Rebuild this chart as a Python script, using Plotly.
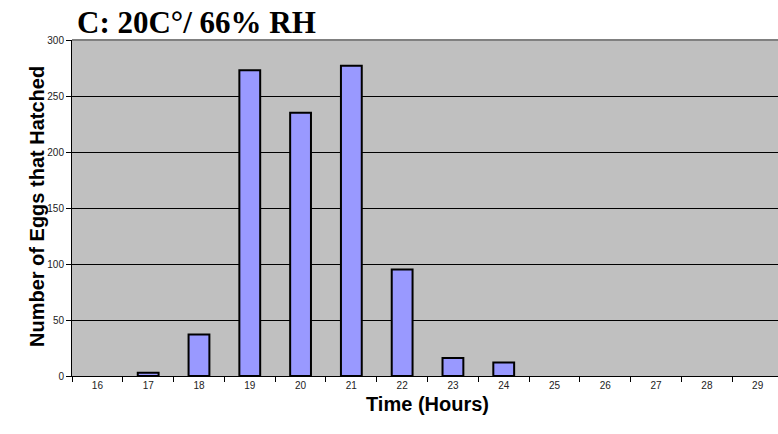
import plotly.graph_objects as go

hours = ["16", "17", "18", "19", "20", "21", "22", "23", "24", "25", "26", "27", "28", "29"]
eggs_hatched = [0, 3, 37, 273, 235, 277, 95, 16, 12, 0, 0, 0, 0, 0]
y_ticks = [0, 50, 100, 150, 200, 250, 300]

W, H = 778, 434
ml, mr, mt = 72, 0, 40
plot_bottom = 376
mb = H - plot_bottom

fig = go.Figure()
fig.add_trace(go.Bar(
    x=hours, y=eggs_hatched,
    width=0.41,
    marker=dict(color="#9999FF",
                line=dict(color="black", width=[2 if v > 0 else 0 for v in eggs_hatched])),
))

pw = W - ml - mr
ph = H - mt - mb

fig.update_layout(
    width=W, height=H,
    margin=dict(l=ml, r=mr, t=mt, b=mb, pad=0),
    paper_bgcolor="white",
    plot_bgcolor="#C0C0C0",
    showlegend=False,
    font=dict(family="Liberation Sans, Arial, sans-serif", color="black"),
    title=dict(
        text="<b>C: 20C°/ 66% RH</b>",
        font=dict(family="Liberation Serif, Times New Roman, serif", size=31, color="black"),
        x=77 / W, xanchor="left", xref="container",
        y=1 - 22 / H, yanchor="middle", yref="container",
    ),
    xaxis=dict(
        type="category",
        range=[-0.5, 13.4],
        showgrid=False,
        showline=True, linecolor="black", linewidth=1,
        ticks="outside", tickson="boundaries", ticklen=5, tickcolor="black",
        tickfont=dict(size=10, color="#222222"),
        automargin=False,
    ),
    yaxis=dict(
        range=[0, 300],
        tickvals=y_ticks,
        showgrid=True, gridcolor="black", gridwidth=1,
        zeroline=False,
        showline=True, linecolor="black", linewidth=1,
        ticks="outside", ticklen=5, tickcolor="black",
        tickfont=dict(size=10, color="#222222"),
        automargin=False,
    ),
    annotations=[
        dict(text="<b>Number of Eggs that Hatched</b>",
             x=(24 - ml) / pw, y=1 - (207 - mt) / ph,
             xref="paper", yref="paper", showarrow=False, textangle=-90,
             font=dict(size=20, color="black")),
        dict(text="<b>Time (Hours)</b>",
             x=(427 - ml) / pw, y=-(417 - plot_bottom) / ph,
             xref="paper", yref="paper", showarrow=False,
             font=dict(size=20, color="black")),
    ],
    shapes=[
        dict(type="line", xref="paper", yref="paper", x0=0, x1=1, y0=1, y1=1,
             line=dict(color="#808080", width=2)),
    ],
)

fig.write_html(
    "out.html",
    config={"displayModeBar": False},
    post_script="document.body.style.margin='0';document.body.style.overflow='hidden';",
)
